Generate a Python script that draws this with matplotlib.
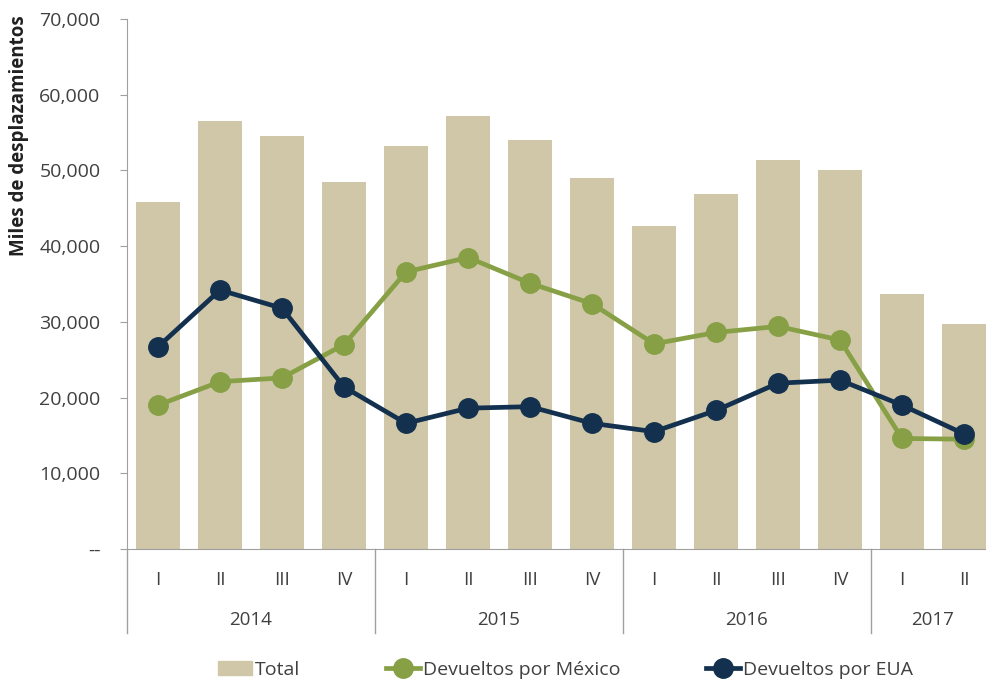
import matplotlib
matplotlib.use("Agg")
import matplotlib.pyplot as plt
from matplotlib.lines import Line2D
from matplotlib.patches import Patch

plt.rcParams['font.family'] = ['Open Sans', 'DejaVu Sans']

quarters = ["I", "II", "III", "IV", "I", "II", "III", "IV", "I", "II", "III", "IV", "I", "II"]
years = ["2014", "2015", "2016", "2017"]
year_counts = [4, 4, 4, 2]
total = [45800, 56500, 54600, 48500, 53200, 57200, 54000, 49000, 42700, 46900, 51400, 50100, 33700, 29700]
mexico = [19000, 22100, 22600, 27000, 36600, 38500, 35100, 32400, 27100, 28600, 29400, 27600, 14600, 14500]
eua = [26700, 34200, 31800, 21400, 16600, 18600, 18800, 16600, 15500, 18300, 21900, 22300, 19000, 15200]
yticks = [0, 10000, 20000, 30000, 40000, 50000, 60000, 70000]
yticklabels = ["--", "10,000", "20,000", "30,000", "40,000", "50,000", "60,000", "70,000"]

c_bar = "#CFC7A7"
c_mex = "#87A046"
c_eua = "#13314F"
c_txt = "#404040"
c_ax = "#A0A0A0"

fig = plt.figure(figsize=(9.86, 6.82), dpi=100)
ax = fig.add_axes([127/986, 133/682, (986-127)/986, (549-19)/682])

x = list(range(len(quarters)))
ax.bar(x, total, width=0.7, color=c_bar, zorder=1)
ax.plot(x, mexico, color=c_mex, lw=3.4, marker='o', ms=14, zorder=2)
ax.plot(x, eua, color=c_eua, lw=3.4, marker='o', ms=14, zorder=3)

ax.set_xlim(-0.5, -0.5 + (986-127)/62)
ax.set_ylim(0, 70000)
ax.set_yticks(yticks)
ax.set_yticklabels(yticklabels, fontsize=14, color=c_txt)
ax.tick_params(axis='y', length=5, color=c_ax, pad=14)
ax.set_xticks([])
for s in ['top', 'right']:
    ax.spines[s].set_visible(False)
ax.spines['left'].set_color(c_ax)
ax.spines['bottom'].set_color(c_ax)
ax.set_ylabel("Miles de desplazamientos", fontsize=13.5, fontweight='bold', color="#202020")
ax.yaxis.set_label_coords(-0.114, 0.78)

# two-level category axis
trans = ax.get_xaxis_transform()
for i, q in enumerate(quarters):
    ax.text(i, -31/530, q, transform=trans, ha='center', va='center', fontsize=13.5, color=c_txt)
start = 0
for yr, n in zip(years, year_counts):
    ax.text(start + n/2 - 0.5, -71/530, yr, transform=trans, ha='center', va='center', fontsize=13.5, color=c_txt)
    ax.plot([start - 0.5, start - 0.5], [0, -84/530], transform=trans, color=c_ax, lw=1, clip_on=False)
    start += n

handles = [Patch(color=c_bar),
           Line2D([], [], color=c_mex, lw=3.4, marker='o', ms=14),
           Line2D([], [], color=c_eua, lw=3.4, marker='o', ms=14)]
labels = ["Total", "Devueltos por México", "Devueltos por EUA"]
fig.legend(handles, labels, loc='center left', bbox_to_anchor=(218/986, 12/682), ncol=3, frameon=False,
           fontsize=14, handlelength=1.75, handletextpad=0.15, columnspacing=4.4, labelcolor=c_txt,
           borderpad=0, borderaxespad=0)

fig.savefig("out.png", dpi=100)
